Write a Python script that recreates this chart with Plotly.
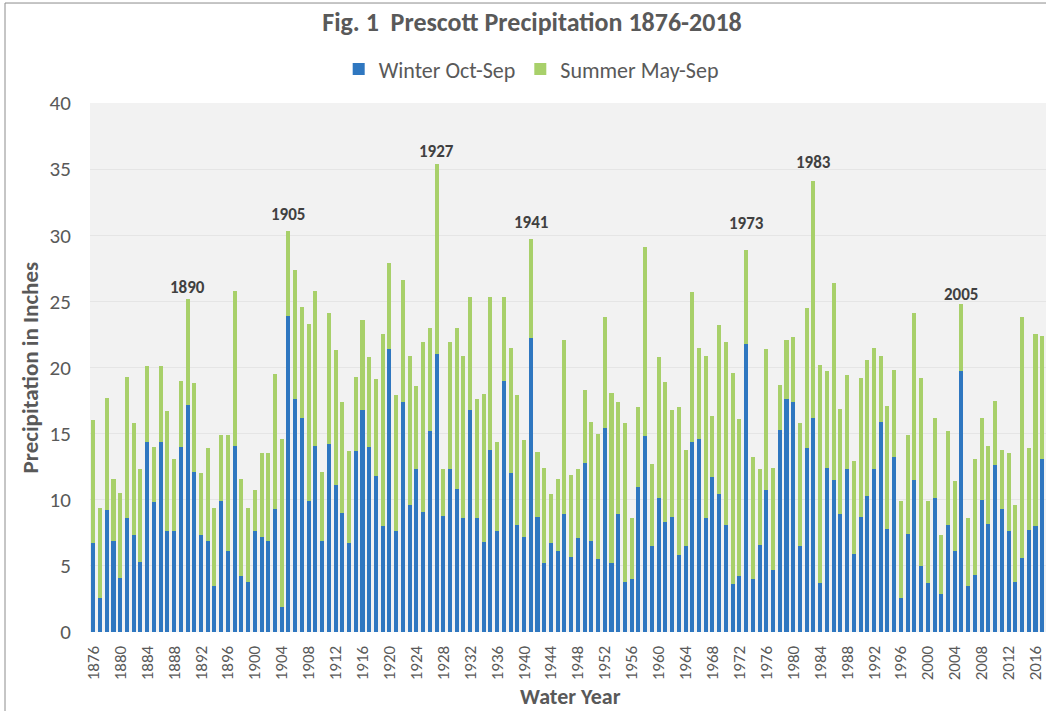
import plotly.graph_objects as go

years = list(range(1876, 2018))

winter = [
    6.7, 2.6, 9.2, 6.9, 4.1, 8.6, 7.3, 5.3, 14.4, 9.8,
    14.4, 7.6, 7.6, 14.0, 17.2, 12.1, 7.3, 6.9, 3.5, 9.9,
    6.1, 14.1, 4.2, 3.8, 7.6, 7.2, 6.9, 9.3, 1.9, 23.9,
    17.6, 16.2, 9.9, 14.1, 6.9, 14.2, 11.1, 9.0, 6.7, 13.7,
    16.8, 14.0, 11.8, 8.0, 21.4, 7.6, 17.4, 9.6, 12.3, 9.1,
    15.2, 21.0, 8.8, 12.3, 10.8, 8.6, 16.8, 8.6, 6.8, 13.8,
    7.6, 19.0, 12.0, 8.1, 7.2, 22.2, 8.7, 5.2, 6.7, 6.1,
    8.9, 5.7, 7.1, 12.8, 6.9, 5.5, 15.4, 5.2, 8.9, 3.8,
    4.0, 11.0, 14.8, 6.5, 10.1, 8.3, 8.7, 5.8, 6.5, 14.4,
    14.6, 8.6, 11.7, 10.4, 8.1, 3.6, 4.2, 21.8, 4.0, 6.6,
    10.7, 4.7, 15.3, 17.6, 17.4, 6.5, 13.9, 16.2, 3.7, 12.4,
    11.5, 8.9, 12.3, 5.9, 8.7, 10.3, 12.3, 15.9, 7.8, 13.2,
    2.6, 7.4, 11.5, 5.0, 3.7, 10.1, 2.9, 8.1, 6.1, 19.7,
    3.5, 4.3, 10.0, 8.2, 12.6, 9.3, 7.6, 3.8, 5.6, 7.7,
    8.0, 13.1,
]

summer = [
    9.3, 6.8, 8.5, 4.7, 6.4, 10.7, 8.5, 7.0, 5.7, 4.2,
    5.7, 9.1, 5.5, 5.0, 8.0, 6.7, 4.7, 7.0, 5.9, 5.0,
    8.8, 11.7, 7.4, 5.6, 3.1, 6.3, 6.6, 10.2, 12.7, 6.4,
    9.8, 8.4, 13.4, 11.7, 5.2, 9.9, 10.2, 8.4, 7.0, 5.6,
    6.8, 6.8, 7.3, 14.5, 6.5, 10.3, 9.2, 11.3, 6.3, 12.8,
    7.8, 14.4, 3.5, 9.6, 12.2, 12.3, 8.5, 9.0, 11.2, 11.5,
    6.8, 6.3, 9.5, 9.8, 7.3, 7.5, 4.9, 7.2, 3.7, 5.5,
    13.2, 6.2, 5.2, 5.5, 9.0, 9.5, 8.4, 12.9, 8.5, 12.0,
    4.6, 6.0, 14.3, 6.2, 10.7, 10.6, 8.1, 11.2, 7.3, 11.3,
    6.9, 12.3, 4.6, 12.8, 13.8, 16.0, 11.9, 7.1, 9.2, 5.7,
    10.7, 7.7, 3.4, 4.5, 4.9, 9.3, 10.6, 17.9, 16.5, 7.3,
    14.9, 8.0, 7.1, 7.0, 10.5, 10.3, 9.2, 5.0, 9.3, 6.6,
    7.3, 7.5, 12.6, 14.2, 6.2, 6.1, 4.4, 7.1, 5.3, 5.1,
    5.1, 8.8, 6.2, 5.9, 4.9, 4.5, 5.9, 5.8, 18.2, 6.2,
    14.5, 9.3,
]

tick_years = list(range(1876, 2017, 4))
tick_labels = [str(y) for y in tick_years]

peak_years = [1890, 1905, 1927, 1941, 1973, 1983, 2005]
peak_shift = [-1, 4, 0, 4, 14, 6, -3]

FONT = "Carlito, Calibri, Lato, sans-serif"
GRAY = "#595959"

fig = go.Figure()
fig.add_trace(go.Bar(x=years, y=winter, name="Winter Oct-Sep",
                     marker=dict(color="#2f77c0", line=dict(width=0))))
fig.add_trace(go.Bar(x=years, y=summer, name="Summer May-Sep",
                     marker=dict(color="#a8d06a", line=dict(width=0))))

annotations = []
for yr, sh in zip(peak_years, peak_shift):
    i = years.index(yr)
    annotations.append(dict(x=yr, y=winter[i] + summer[i], xref="x", yref="y",
                            text="<b>%d</b>" % yr, showarrow=False,
                            yanchor="bottom", yshift=sh,
                            font=dict(family=FONT, size=17, color="#404040")))

annotations.append(dict(x=-0.0628, y=0.5, xref="paper", yref="paper",
                        text="<b>Precipitation in Inches</b>", textangle=-90,
                        showarrow=False, xanchor="center", yanchor="middle",
                        font=dict(family=FONT, size=23, color=GRAY)))
annotations.append(dict(x=0.503, y=-0.121, xref="paper", yref="paper",
                        text="<b>Water Year</b>", showarrow=False,
                        xanchor="center", yanchor="middle",
                        font=dict(family=FONT, size=22, color=GRAY)))

fig.update_layout(
    width=1046, height=711,
    barmode="stack", bargap=0.4,
    paper_bgcolor="white", plot_bgcolor="#f2f2f2",
    margin=dict(l=90, r=0, t=103, b=79, autoexpand=False),
    title=dict(text="<b>Fig. 1  Prescott Precipitation 1876-2018</b>",
               x=0.5086, xanchor="center", y=0.969, yanchor="middle",
               font=dict(family=FONT, size=26, color=GRAY)),
    legend=dict(orientation="h", x=0.4615, xanchor="center",
                y=1.064, yanchor="middle", traceorder="normal",
                font=dict(family=FONT, size=22, color=GRAY),
                bgcolor="rgba(0,0,0,0)"),
    xaxis=dict(range=[1875.51, 2017.56], tickmode="array",
               tickvals=tick_years, ticktext=tick_labels, tickangle=-90,
               ticks="outside", ticklen=6, tickcolor="rgba(0,0,0,0)",
               ticklabeloverflow="allow",
               showgrid=False, zeroline=False, showline=False,
               tickfont=dict(family=FONT, size=17, color=GRAY)),
    yaxis=dict(range=[0, 40], dtick=5, showgrid=True, gridcolor="#e5e5e5",
               gridwidth=1, zeroline=False, showline=False,
               ticks="outside", ticklen=14, tickcolor="rgba(0,0,0,0)",
               tickfont=dict(family=FONT, size=21, color=GRAY)),
    annotations=annotations,
    shapes=[dict(type="rect", xref="paper", yref="paper",
                 x0=-0.0889, x1=1.2, y0=-0.3, y1=1.189,
                 line=dict(color="#8c8c8c", width=1), layer="below")],
    showlegend=True,
)

fig.write_html(
    "out.html",
    config={"displayModeBar": False},
    post_script="document.body.style.margin='0';"
                "document.body.style.overflow='hidden';"
                "document.documentElement.style.overflow='hidden';",
)
